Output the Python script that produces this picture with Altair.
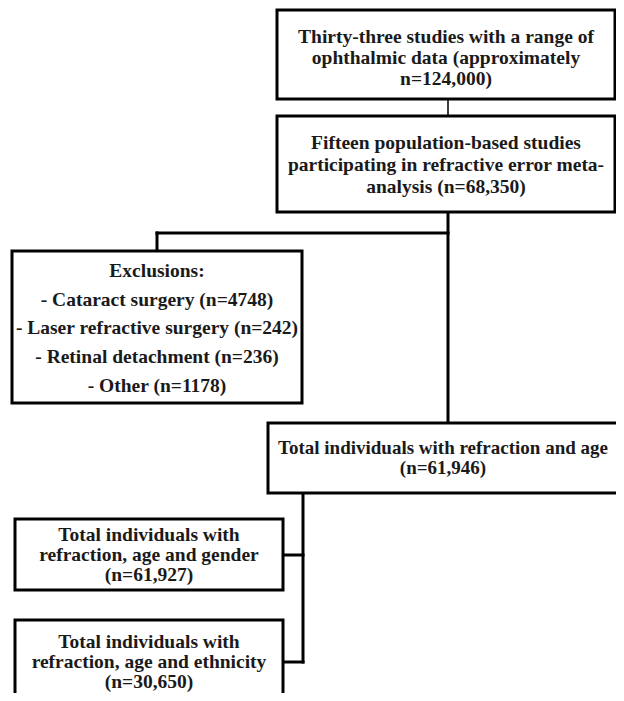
import altair as alt
import pandas as pd

# ---- content (text of each box) ----
box_names = ["start", "pop", "excl", "total", "gender", "ethnic"]
box_texts = [
    "Thirty-three studies with a range of\nophthalmic data (approximately\nn=124,000)",
    "Fifteen population-based studies\nparticipating in refractive error meta-\nanalysis (n=68,350)",
    "Exclusions:\n- Cataract surgery (n=4748)\n- Laser refractive surgery (n=242)\n- Retinal detachment (n=236)\n- Other (n=1178)",
    "Total individuals with refraction and age\n(n=61,946)",
    "Total individuals with\nrefraction, age and gender\n(n=61,927)",
    "Total individuals with\nrefraction, age and ethnicity\n(n=30,650)",
]

# ---- layout (page pixel coordinates) ----
box_x0 = [277, 277, 12, 268, 15, 15]
box_x1 = [615, 615, 302, 634, 283, 283]
box_y0 = [10, 116, 251, 423, 519, 620]
box_y1 = [99, 212, 403, 493, 590, 706]
text_cx = [446, 446, 157, 443, 149, 149]
text_by = [43, 149, 277, 454, 541, 648]   # baseline of first line

seg_x = [448, 448, 157, 157, 303, 283, 283]
seg_x2 = [448, 448, 448, 157, 303, 303, 303]
seg_y = [99, 212, 233, 233, 493, 555, 662]
seg_y2 = [116, 423, 233, 251, 662, 555, 662]
seg_w = [1.5, 3, 3, 3, 3, 3, 3]

boxes = pd.DataFrame({
    "name": box_names, "label": box_texts,
    "x0": box_x0, "x1": box_x1, "y0": box_y0, "y1": box_y1,
    "cx": text_cx, "by": text_by,
})
segs = pd.DataFrame({"x": seg_x, "x2": seg_x2, "y": seg_y, "y2": seg_y2, "w": seg_w})

W, H = 608, 685
xs = alt.Scale(domain=[8, 8 + W], range=[0, W], nice=False, zero=False)
ys = alt.Scale(domain=[8, 8 + H], range=[0, H], nice=False, zero=False)

FONT = "Liberation Serif"

rules = alt.Chart(segs).mark_rule(color="black", clip=True, strokeCap="square").encode(
    x=alt.X("x:Q", scale=xs, axis=None),
    x2="x2:Q",
    y=alt.Y("y:Q", scale=ys, axis=None),
    y2="y2:Q",
    strokeWidth=alt.StrokeWidth("w:Q", scale=None, legend=None),
)

rects = alt.Chart(boxes).mark_rect(fill="white", stroke="black", strokeWidth=3, clip=True).encode(
    x=alt.X("x0:Q", scale=xs, axis=None),
    x2="x1:Q",
    y=alt.Y("y0:Q", scale=ys, axis=None),
    y2="y1:Q",
)

def text_layer(lh, names, size=19.5):
    return alt.Chart(boxes).transform_filter(
        alt.FieldOneOfPredicate(field="name", oneOf=names)
    ).mark_text(
        font=FONT, fontSize=size, fontWeight="bold", color="#1a1a1a",
        lineBreak="\n", lineHeight=lh, align="center", baseline="alphabetic", clip=True,
    ).encode(
        x=alt.X("cx:Q", scale=xs, axis=None),
        y=alt.Y("by:Q", scale=ys, axis=None),
        text="label:N",
    )

texts = [
    text_layer(21, ["start"]),
    text_layer(22, ["pop"]),
    text_layer(28.7, ["excl"]),
    text_layer(20, ["total"], size=19),
    text_layer(20, ["gender", "ethnic"]),
]

chart = alt.layer(rules, rects, *texts).properties(
    width=W, height=H, padding=0, background="white"
).configure_view(stroke=None)

chart.save("out.html", embed_options={"renderer": "svg", "actions": False})
